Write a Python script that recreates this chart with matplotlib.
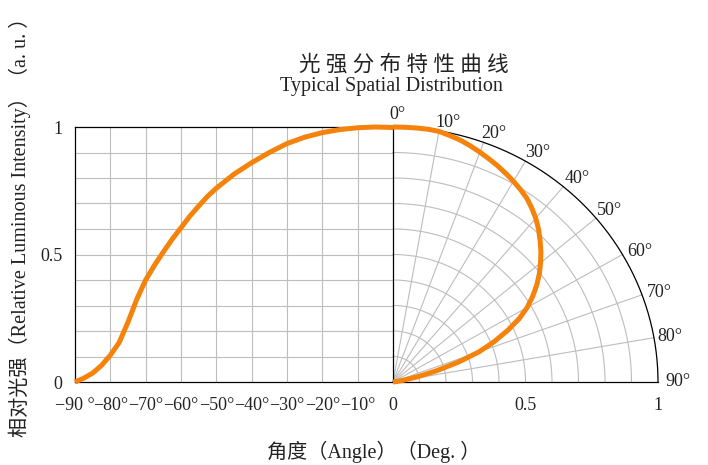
import numpy as np
import matplotlib
matplotlib.use("Agg")
import matplotlib.pyplot as plt

plt.rcParams['font.family'] = ['Liberation Serif', 'Noto Sans CJK SC', 'DejaVu Sans']

# left half: relative intensity vs angle (deg)
left_angles = [-90, -87.5, -85, -82.5, -80, -77.5, -75, -72.5, -70, -67.5, -65, -62.5, -60, -57.5,
               -55, -52.5, -50, -45, -40, -35, -30, -25, -20, -15, -10, -5, 0]
left_values = [0.0, 0.015, 0.035, 0.065, 0.105, 0.155, 0.235, 0.325, 0.40, 0.458, 0.51, 0.56, 0.605, 0.65,
               0.69, 0.728, 0.76, 0.815, 0.86, 0.90, 0.935, 0.96, 0.978, 0.99, 0.997, 1.0, 0.998]

# right half: polar curve, angle (deg) and relative intensity
polar_angles = [0, 2.5, 5, 7.5, 10, 12.5, 15, 17.5, 20, 22.5, 25, 27.5, 30, 32.5, 35, 37.5, 40, 42.5,
                45, 47.5, 50, 52.5, 55, 57.5, 60, 62.5, 65, 67.5, 70, 72.5, 75, 77.5, 80, 82.5, 85, 90]
polar_values = [1.0, 1.0, 1.0, 1.0, 0.998, 0.99, 0.982, 0.971, 0.959, 0.947, 0.935, 0.922, 0.909, 0.895,
                0.88, 0.86, 0.838, 0.813, 0.785, 0.757, 0.727, 0.696, 0.662, 0.625, 0.585, 0.536, 0.476,
                0.413, 0.345, 0.258, 0.17, 0.097, 0.04, 0.015, 0.005, 0.0]

left_ticks = [-90, -80, -70, -60, -50, -40, -30, -20, -10]
left_tick_labels = ['\u221290 \u00b0', '\u221280\u00b0', '\u221270\u00b0', '\u221260\u00b0', '\u221250\u00b0',
                    '\u221240\u00b0', '\u221230\u00b0', '\u221220\u00b0', '\u221210\u00b0']
radius_ticks = [0, 0.5, 1]
radius_tick_labels = ['0', '0.5', '1']
angle_labels = [0, 10, 20, 30, 40, 50, 60, 70, 80, 90]

R_SCALE = 75.0  # x units for polar radius 1
ORANGE = '#f5820a'
GRID = '#bdbdbd'
TXT = '#222222'

fig = plt.figure(figsize=(7.08, 4.65), dpi=100)
ax = fig.add_axes([75 / 708, 83 / 465, 583 / 708, 255 / 465])
ax.set_xlim(-90, R_SCALE)
ax.set_ylim(0, 1)


def polar_xy(r, deg):
    t = np.radians(np.asarray(deg, dtype=float))
    return R_SCALE * np.asarray(r) * np.sin(t), np.asarray(r) * np.cos(t)


# cartesian grid on the left
for x in left_ticks[1:]:
    ax.plot([x, x], [0, 1], color=GRID, lw=0.8, zorder=1)
for y in np.arange(0.1, 1.0, 0.1):
    ax.plot([-90, 0], [y, y], color=GRID, lw=0.8, zorder=1)

# polar grid on the right
th = np.linspace(0, 90, 200)
for r in np.arange(0.1, 1.0, 0.1):
    gx, gy = polar_xy(r, th)
    ax.plot(gx, gy, color=GRID, lw=0.8, zorder=1)
gx, gy = polar_xy(1.0, th)
ax.plot(gx, gy, color='black', lw=0.9, zorder=2, clip_on=False)
for a in range(10, 90, 10):
    gx, gy = polar_xy([0, 1], [a, a])
    ax.plot(gx, gy, color=GRID, lw=0.8, zorder=1)

# frame
ax.spines['right'].set_visible(False)
ax.spines['top'].set_bounds(-90, 0)
for s in ['left', 'bottom', 'top']:
    ax.spines[s].set_color('black')
    ax.spines[s].set_linewidth(0.9)
ax.plot([0, 0], [0, 1], color='black', lw=0.9, zorder=2)

# curves
ax.plot(left_angles, left_values, color=ORANGE, lw=3.6, zorder=5, clip_on=False,
        solid_capstyle='butt', solid_joinstyle='round')
px, py = polar_xy(polar_values, polar_angles)
ax.plot(px, py, color=ORANGE, lw=3.6, zorder=5, clip_on=False,
        solid_capstyle='butt', solid_joinstyle='round')

# ticks
xt = left_ticks + [R_SCALE * v for v in radius_ticks]
xl = left_tick_labels + radius_tick_labels
ax.set_xticks(xt)
ax.set_xticklabels(xl, fontsize=13, color=TXT)
ax.set_yticks([0, 0.5, 1])
ax.set_yticklabels(['0', '0.5', '1'], fontsize=13, color=TXT)
ax.tick_params(axis='x', length=0, pad=11)
ax.tick_params(axis='y', length=0, pad=9)

# angle labels around the arc (offsets in pixels)
lab_style = {0: ('center', 'bottom', 4, 4), 10: ('left', 'bottom', -4, 0), 20: ('left', 'bottom', -2, 0),
             30: ('left', 'bottom', 0, 0), 40: ('left', 'bottom', 1, 0), 50: ('left', 'bottom', 1, -1),
             60: ('left', 'center', 5, 3), 70: ('left', 'center', 5, 2), 80: ('left', 'center', 3, 1),
             90: ('left', 'center', 7, 0)}
for a in angle_labels:
    lx, ly = polar_xy(1.0, a)
    ha, va, dx, dy = lab_style[a]
    ax.annotate(f'{a}\u00b0', (lx, ly), xytext=(dx / 1.389, dy / 1.389),
                textcoords='offset points', ha=ha, va=va, fontsize=13,
                color=TXT, annotation_clip=False)

# titles and axis labels
fig.text(404 / 708, 1 - 65 / 465, '\u5149 \u5f3a \u5206 \u5e03 \u7279 \u6027 \u66f2 \u7ebf',
         ha='center', va='center', fontsize=15.5, color=TXT)
fig.text(391 / 708, 1 - 87 / 465, 'Typical Spatial Distribution', ha='center', va='center',
         fontsize=14.5, color=TXT)
fig.text(374 / 708, 1 - 452 / 465, '\u89d2\u5ea6\uff08Angle\uff09\uff08Deg. \uff09', ha='center', va='center',
         fontsize=14.5, color=TXT)
fig.text(20 / 708, 1 - 222 / 465,
         '\u76f8\u5bf9\u5149\u5f3a\uff08Relative Luminous Intensity\uff09\uff08a. u. \uff09',
         ha='center', va='center', rotation=90, fontsize=14.5, color=TXT)

fig.savefig('out.png', dpi=100, facecolor='white')
